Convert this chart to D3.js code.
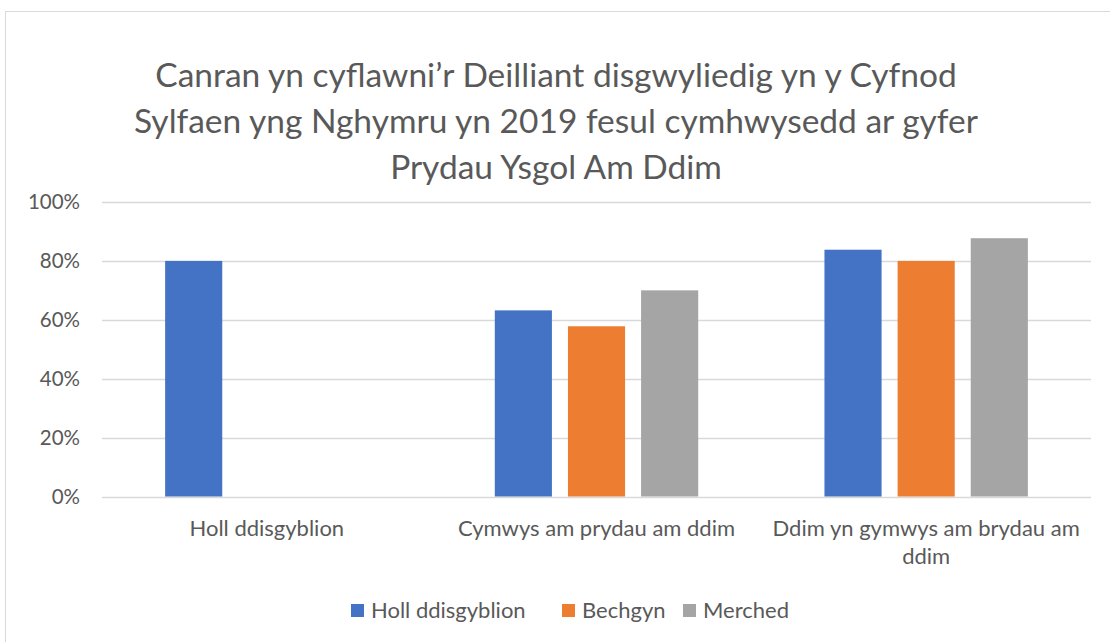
<!DOCTYPE html>
<html>
<head>
<meta charset="utf-8">
<script src="https://cdn.jsdelivr.net/npm/d3@7"></script>
<style>
  body { margin: 0; background: #fff; }
  svg { display: block; font-family: Lato, "Open Sans", sans-serif; }
</style>
</head>
<body>
<svg id="chart"></svg>
<script>
// Chart data ****************************************************************
const categories = ["Holl ddisgyblion", "Cymwys am prydau am ddim", "Ddim yn gymwys am brydau am ddim"];
const seriesNames = ["Holl ddisgyblion", "Bechgyn", "Merched"];
const allPupils = [0.80, 0.632, 0.838];   // Holl ddisgyblion
const boys = [null, 0.578, 0.80];         // Bechgyn (no bar in first group)
const girls = [null, 0.70, 0.877];        // Merched (no bar in first group)
const yTicks = [0, 0.2, 0.4, 0.6, 0.8, 1.0];
const titleLines = [
    "Canran yn cyflawni\u2019r Deilliant disgwyliedig yn y Cyfnod",
    "Sylfaen yng Nghymru yn 2019 fesul cymhwysedd ar gyfer",
    "Prydau Ysgol Am Ddim"
];

const colours = ["#4472C4", "#ED7D31", "#A5A5A5"];
const textColour = "#595959";
const width = 1110, height = 642;

const svg = d3.select("#chart")
    .attr("width", width)
    .attr("height", height);

// Chart border (Excel style)
svg.append("rect")
    .attr("x", 5.5).attr("y", 11.5)
    .attr("width", width + 10).attr("height", height + 10)
    .attr("fill", "#fff")
    .attr("stroke", "#d9d9d9");

// Title
svg.append("text")
    .attr("text-anchor", "middle")
    .attr("fill", textColour)
    .style("font-size", "33.5px")
    .selectAll("tspan")
    .data(titleLines)
    .enter().append("tspan")
    .attr("x", 556)
    .attr("y", (d, i) => 87 + i * 46)
    .text(d => d);

// Scales
const x = d3.scaleBand().domain(categories).range([102, 1091]);
const xInner = d3.scaleBand().domain(seriesNames).range([0, x.bandwidth()])
    .paddingInner(0.219).paddingOuter(0.863);
const y = d3.scaleLinear().domain([0, 1]).range([496.5, 202]);

// Gridlines
svg.append("g")
    .selectAll("line")
    .data(yTicks)
    .enter().append("line")
    .attr("x1", 102).attr("x2", 1091)
    .attr("y1", d => Math.round(y(d)) + 0.5)
    .attr("y2", d => Math.round(y(d)) + 0.5)
    .attr("stroke", "#d9d9d9")
    .attr("stroke-width", 1.5);

// Y axis labels
const yAxis = d3.axisLeft(y).tickValues(yTicks).tickFormat(d3.format(".0%")).tickSize(0).tickPadding(22);
svg.append("g")
    .attr("transform", "translate(102,0)")
    .call(yAxis)
    .call(g => g.select(".domain").remove())
    .selectAll("text")
    .attr("fill", textColour)
    .style("font-size", "20.5px")
    .style("font-family", "Lato, sans-serif");

// Bars
const seriesValues = [allPupils, boys, girls];
const barData = [];
categories.forEach((c, ci) => {
    seriesNames.forEach((s, si) => {
        const v = seriesValues[si][ci];
        if (v != null) barData.push({ category: c, series: s, value: v, colour: colours[si] });
    });
});

svg.append("g")
    .selectAll("rect")
    .data(barData)
    .enter().append("rect")
    .attr("x", d => x(d.category) + xInner(d.series))
    .attr("y", d => y(d.value))
    .attr("width", xInner.bandwidth())
    .attr("height", d => y(0) - y(d.value))
    .attr("fill", d => d.colour);

// Category labels (wrapped like Excel)
function wrapLines(text, maxWidth, fontSize) {
    const probe = svg.append("text").style("font-size", fontSize + "px");
    const words = text.split(" ");
    const lines = [];
    let line = [];
    words.forEach(w => {
        line.push(w);
        probe.text(line.join(" "));
        if (probe.node().getComputedTextLength() > maxWidth && line.length > 1) {
            line.pop();
            lines.push(line.join(" "));
            line = [w];
        }
    });
    lines.push(line.join(" "));
    probe.remove();
    return lines;
}

categories.forEach(c => {
    const lines = wrapLines(c, 320, 22);
    svg.append("text")
        .attr("text-anchor", "middle")
        .attr("fill", textColour)
        .style("font-size", "22px")
        .selectAll("tspan")
        .data(lines)
        .enter().append("tspan")
        .attr("x", x(c) + x.bandwidth() / 2)
        .attr("y", (d, i) => 536 + i * 28)
        .text(d => d);
});

// Legend
const legendX = [351, 562, 683];
const legend = svg.append("g")
    .selectAll("g")
    .data(seriesNames)
    .enter().append("g")
    .attr("transform", (d, i) => `translate(${legendX[i]},604)`);

legend.append("rect")
    .attr("width", 13).attr("height", 13)
    .attr("fill", (d, i) => colours[i]);

legend.append("text")
    .attr("x", 20).attr("y", 14)
    .attr("fill", textColour)
    .style("font-size", "22px")
    .text(d => d);
</script>
</body>
</html>
